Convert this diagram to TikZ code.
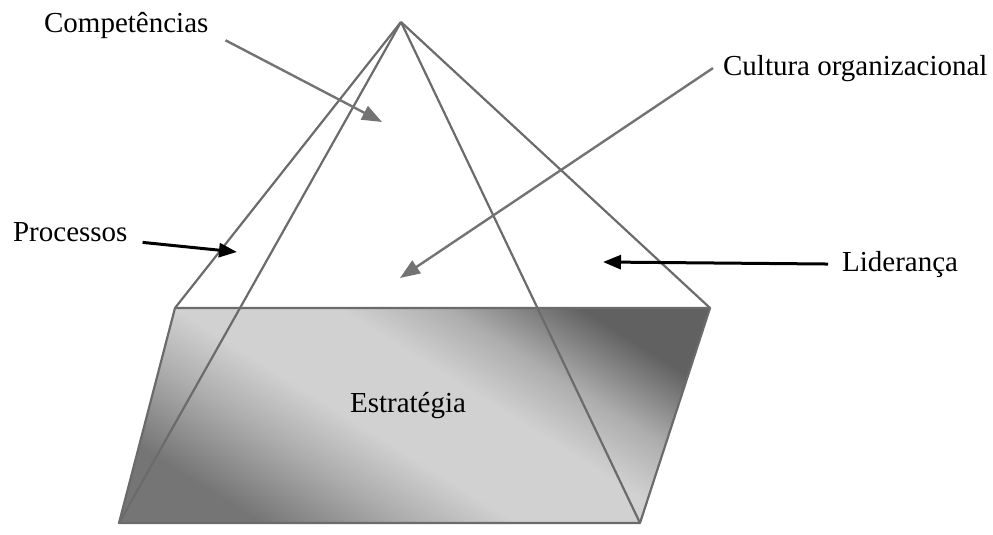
\documentclass[tikz,border=0pt]{standalone}
\usepackage{fontspec}
\setmainfont{Liberation Serif}
\usetikzlibrary{arrows.meta}
\definecolor{edgegray}{gray}{0.42}
\definecolor{arrowgray}{gray}{0.45}
\definecolor{shadedark}{gray}{0.38}
\definecolor{shadelow}{gray}{0.46}
\definecolor{shademid}{gray}{0.68}
\definecolor{shadelight}{gray}{0.82}
\pgfdeclareverticalshading{basefade}{100bp}{color(0bp)=(shadelow); color(26bp)=(shadelow); color(37bp)=(shademid); color(45bp)=(shadelight); color(57bp)=(shadelight); color(65bp)=(shademid); color(75bp)=(shadedark); color(100bp)=(shadedark)}

\begin{document}
\begin{tikzpicture}[x=1pt, y=-1pt, line width=2.2pt,
  lbl/.style={inner sep=0pt, font=\fontsize{29}{32}\selectfont},
  grayarrow/.style={-{Triangle[length=20pt, width=15pt]}, draw=arrowgray, line width=2.4pt},
  blackarrow/.style={-{Triangle[length=18pt, width=14pt]}, draw=black, line width=3pt}]
  \useasboundingbox (0,0) rectangle (993,535);
  \coordinate (apex) at (401,22);
  \coordinate (tl) at (175,308);
  \coordinate (tr) at (710,308);
  \coordinate (br) at (640,523);
  \coordinate (bl) at (119,523);
  % base
  \shade[shading=basefade, shading angle=-32] (tl) -- (tr) -- (br) -- (bl) -- cycle;
  \draw[edgegray] (apex) -- (tl);
  \draw[edgegray] (apex) -- (tr);
  \draw[edgegray, line join=round] (tl) -- (tr) -- (br) -- (bl) -- cycle;
  \draw[edgegray] (apex) -- (bl);
  \draw[edgegray] (apex) -- (br);
  % labels
  \node[lbl, anchor=base west] (comp) at (43,33) {Competências};
  \node[lbl, anchor=base west] (cult) at (722,75) {Cultura organizacional};
  \node[lbl, anchor=base west] (proc) at (12,241) {Processos};
  \node[lbl, anchor=base west] (lid) at (841,271) {Liderança};
  \node[lbl, anchor=base] (estr) at (408,412) {Estratégia};
  \coordinate (compTip) at (382,122);
  \coordinate (cultTip) at (400,278);
  \coordinate (procTip) at (237,252);
  \coordinate (lidTip) at (603,262);
  \draw[grayarrow] ([xshift=16pt]comp.south east) -- (compTip);
  \draw[grayarrow] ([xshift=-9pt]cult.west) -- (cultTip);
  \draw[blackarrow] ([xshift=14pt]proc.south east) -- (procTip);
  \draw[blackarrow] ([xshift=-13pt]lid.west) -- (lidTip);
\end{tikzpicture}
\end{document}
